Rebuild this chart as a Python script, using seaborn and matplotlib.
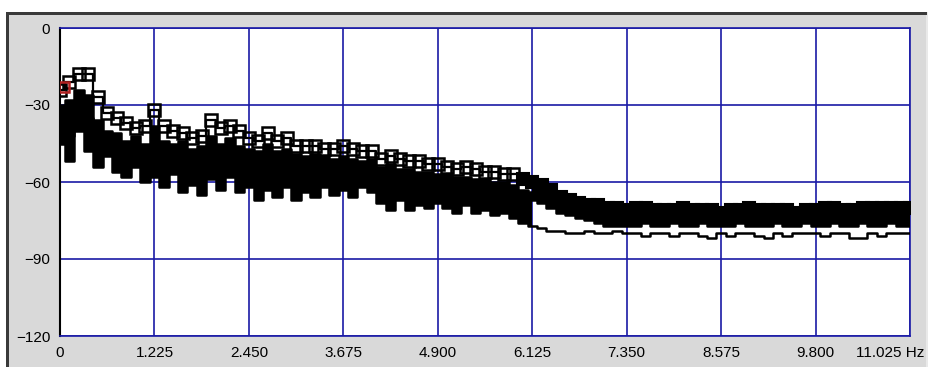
import numpy as np
import pandas as pd
import matplotlib
matplotlib.use("Agg")
import matplotlib.pyplot as plt
import matplotlib.transforms as mtransforms
from matplotlib.patches import Rectangle
import seaborn as sns

# frequency axis (one point per 0.1225 step, 0 .. 11.025)
freq = [round(i * 0.1225, 4) for i in range(91)]

# peak-hold trace (drawn with squares)
peak_db = [-24, -21, -18, -18, -27, -33, -35, -37, -39, -38,
           -32, -38, -40, -41, -43, -42, -36, -39, -38, -40,
           -43, -44, -41, -44, -43, -46, -46, -46, -47, -47,
           -46, -47, -48, -48, -51, -50, -51, -52, -52, -53,
           -53, -54, -55, -54, -55, -56, -56, -57, -57, -59,
           -60, -61, -63, -66, -67, -68, -69, -69, -70, -70,
           -71, -70, -70, -71, -71, -71, -70, -71, -71, -71,
           -72, -71, -71, -70, -71, -71, -71, -71, -72, -71,
           -71, -70, -70, -71, -71, -70, -70, -70, -70, -70, -70]

# upper body of the band
upper_db = [-30, -28, -24, -26, -36, -40, -41, -44, -42, -45,
            -38, -44, -45, -44, -47, -46, -42, -45, -43, -46,
            -47, -48, -45, -48, -47, -49, -50, -49, -50, -51,
            -50, -51, -52, -51, -54, -53, -55, -55, -56, -56,
            -57, -57, -58, -58, -59, -59, -60, -60, -61, -63,
            -64, -65, -67, -69, -70, -71, -72, -72, -73, -73,
            -73, -74, -73, -73, -74, -73, -74, -73, -73, -74,
            -73, -74, -73, -73, -74, -73, -73, -74, -73, -74,
            -73, -73, -74, -73, -73, -74, -73, -73, -74, -73, -73]

# middle trace
mid_db = [-38, -42, -33, -35, -45, -47, -50, -48, -52, -50,
          -46, -52, -50, -54, -52, -55, -50, -53, -51, -55,
          -53, -56, -52, -55, -53, -54, -53, -55, -54, -56,
          -55, -54, -57, -55, -58, -59, -58, -60, -61, -59,
          -61, -62, -60, -63, -62, -64, -63, -64, -65, -66,
          -67, -68, -70, -72, -73, -74, -75, -76, -77, -77,
          -77, -77, -76, -77, -77, -76, -77, -77, -76, -77,
          -77, -77, -76, -77, -77, -77, -76, -77, -77, -76,
          -77, -77, -76, -77, -77, -76, -77, -77, -76, -77, -77]

# lower trace
low_db = [-45, -52, -40, -48, -54, -50, -56, -58, -54, -60,
          -58, -62, -57, -64, -61, -65, -59, -63, -58, -64,
          -62, -67, -63, -66, -62, -67, -64, -66, -62, -65,
          -63, -66, -62, -64, -68, -71, -67, -71, -69, -70,
          -68, -70, -72, -69, -72, -71, -73, -72, -74, -76,
          -77, -78, -79, -79, -80, -80, -79, -80, -80, -79,
          -80, -80, -81, -80, -80, -81, -80, -80, -81, -82,
          -80, -81, -80, -80, -81, -82, -80, -81, -80, -80,
          -80, -81, -80, -80, -82, -82, -80, -81, -80, -80, -80]

red_freq = [0.05]
red_db = [-23]

x_ticks = [0, 1.225, 2.45, 3.675, 4.9, 6.125, 7.35, 8.575, 9.8, 11.025]
x_labels = ["0", "1.225", "2.450", "3.675", "4.900", "6.125", "7.350",
            "8.575", "9.800", "11.025 Hz"]
y_ticks = [0, -30, -60, -90, -120]

sns.set_style("white")
plt.rcParams['font.family'] = ['Liberation Sans', 'DejaVu Sans']

W, H = 929, 367
fig = plt.figure(figsize=(W / 100, H / 100), dpi=100)
fig.patch.set_facecolor("white")

# window panel with dark top/left edge
fig.add_artist(Rectangle((7 / W, 0), (926 - 7) / W, (H - 12) / H,
                         transform=fig.transFigure, facecolor="#d9d9d9",
                         edgecolor="none", zorder=0))
fig.add_artist(Rectangle((926 / W, 0), 3 / W, (H - 12) / H,
                         transform=fig.transFigure, facecolor="#e9e9e9",
                         edgecolor="none", zorder=0))
fig.add_artist(Rectangle((6 / W, (H - 15) / H), (927 - 6) / W, 3 / H,
                         transform=fig.transFigure, facecolor="#3a3a3a",
                         edgecolor="none", zorder=1))
fig.add_artist(Rectangle((6 / W, 0), 3 / W, (H - 12) / H,
                         transform=fig.transFigure, facecolor="#3a3a3a",
                         edgecolor="none", zorder=1))

ax = fig.add_axes([60 / W, 1 - 336 / H, 850 / W, 308 / H])
ax.set_facecolor("white")

df = pd.DataFrame({"freq": freq, "peak": peak_db, "upper": upper_db,
                   "mid": mid_db, "low": low_db})

# dense core of the overlaid traces
left = df["freq"] <= 6.2
right = df["freq"] >= 6.1
ax.fill_between(df["freq"], df["upper"], df["low"], where=left, step="mid",
                color="black", lw=0, zorder=3)
ax.fill_between(df["freq"], df["peak"], df["mid"], where=right, step="mid",
                color="black", lw=0, zorder=3)
for col in ["upper", "mid", "low"]:
    sns.lineplot(data=df, x="freq", y=col, ax=ax, color="black",
                 drawstyle="steps-mid", linewidth=1.8, estimator=None,
                 zorder=4)
sns.lineplot(data=df, x="freq", y="peak", ax=ax, color="black",
             drawstyle="steps-mid", linewidth=1.6, estimator=None, zorder=5)

# open squares where the trace is spread out, solid where it has merged
lo = df[df["freq"] <= 6.0]
hi = df[df["freq"] > 6.0]
ax.plot(lo["freq"], lo["peak"], linestyle="none", marker="s", markersize=9,
        markerfacecolor="none", markeredgecolor="black",
        markeredgewidth=1.8, zorder=6)
ax.plot(hi["freq"], hi["peak"], linestyle="none", marker="s", markersize=9,
        markerfacecolor="black", markeredgecolor="black",
        markeredgewidth=1.5, zorder=6)
ax.plot(red_freq, red_db, marker="s", markersize=7, markerfacecolor="none",
        markeredgecolor="#b02020", markeredgewidth=1.8, linestyle="none",
        zorder=7)

ax.set_xlim(0, 11.025)
ax.set_ylim(-120, 0)
ax.set_xticks(x_ticks)
ax.set_xticklabels(x_labels)
ax.set_yticks(y_ticks)
ax.set_xlabel("")
ax.set_ylabel("")
ax.grid(True, color="#1a1aa6", linewidth=1.2, zorder=1)
ax.set_axisbelow(True)
for side in ["top", "right", "bottom"]:
    ax.spines[side].set_color("#1a1aa6")
    ax.spines[side].set_linewidth(1.2)
ax.spines["left"].set_color("black")
ax.spines["left"].set_linewidth(1.5)
ax.tick_params(axis="both", direction="out", length=5, width=1.2,
               color="black", labelsize=11, labelcolor="black", pad=2)

last = ax.get_xticklabels()[-1]
last.set_transform(last.get_transform() +
                   mtransforms.ScaledTranslation(-0.2, 0, fig.dpi_scale_trans))

fig.savefig("out.png", dpi=100, facecolor=fig.get_facecolor())
